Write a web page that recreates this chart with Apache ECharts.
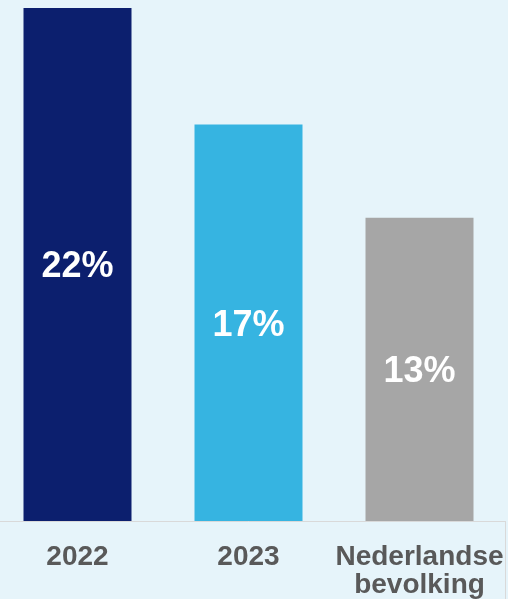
<!DOCTYPE html>
<html>
<head>
<meta charset="utf-8">
<script src="https://cdn.jsdelivr.net/npm/echarts@6/dist/echarts.min.js"></script>
<style>
html,body{margin:0;padding:0;background:#ffffff;}
#wrap{width:508px;height:599px;background:#e6f4fa;overflow:hidden;position:relative;}
#chart{position:absolute;left:-8px;top:0;width:516px;height:599px;}
</style>
</head>
<body>
<div id="wrap"><div id="chart"></div></div>
<script>
var categories = ['2022', '2023', 'Nederlandse\nbevolking'];
var values = [22, 17, 13];
var barColors = ['#0c1f6e', '#36b4e1', '#a6a6a6'];

var chart = echarts.init(document.getElementById('chart'), null, {renderer: 'canvas'});
chart.setOption({
  backgroundColor: 'transparent',
  animation: false,
  grid: {left: 0, right: 3, top: 8, bottom: 78, containLabel: false},
  xAxis: {
    type: 'category',
    data: categories,
    axisLine: {show: true, lineStyle: {color: '#d9d9d9', width: 1}},
    axisTick: {show: false},
    axisLabel: {
      interval: 0,
      margin: 22,
      color: '#595959',
      fontFamily: 'Liberation Sans, Arial, sans-serif',
      fontWeight: 'bold',
      fontSize: 28,
      lineHeight: 28
    }
  },
  yAxis: {
    type: 'value',
    min: 0,
    max: 22,
    show: false,
    splitLine: {show: false}
  },
  graphic: [{
    type: 'line',
    shape: {x1: 513.5, y1: 521, x2: 513.5, y2: 599},
    style: {stroke: '#d9d9d9', lineWidth: 1}
  }],
  series: [{
    type: 'bar',
    barWidth: 108,
    data: values.map(function (v, i) {
      return {value: v, itemStyle: {color: barColors[i]}};
    }),
    label: {
      show: true,
      position: 'inside',
      offset: [0, 3],
      formatter: '{c}%',
      color: '#ffffff',
      fontFamily: 'Liberation Sans, Arial, sans-serif',
      fontWeight: 'bold',
      fontSize: 36
    }
  }]
});
</script>
</body>
</html>
